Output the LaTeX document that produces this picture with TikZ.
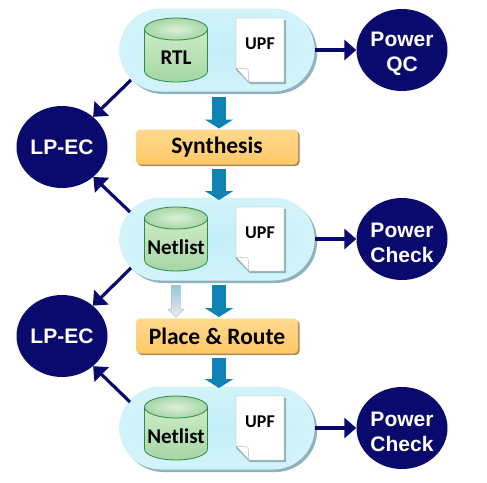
\documentclass[tikz,border=0pt]{standalone}
\usepackage{fontspec}
\setmainfont{Carlito}
\newfontfamily\circlefont{Liberation Sans}
\usetikzlibrary{arrows.meta,calc,shapes.geometric,shapes.arrows,shapes.misc,shadows}

\definecolor{PillBlue}{HTML}{C4EFF9}
\definecolor{PillEdge}{HTML}{D2F3FA}
\definecolor{PillShadow}{HTML}{8FB2BC}
\definecolor{DbGreen}{HTML}{A6D6A6}
\definecolor{DbLight}{HTML}{CDEBC6}
\definecolor{DbLine}{HTML}{2E8B4A}
\definecolor{BoxOrange}{HTML}{FFC766}
\definecolor{BoxLight}{HTML}{FFD98F}
\definecolor{BoxShadow}{HTML}{A8885A}
\definecolor{FlowBlue}{HTML}{0F82B4}
\definecolor{CheckNavy}{HTML}{0A0A6E}

\tikzset{
    pillnode/.style={rounded rectangle, minimum width=202pt, minimum height=83pt,
        inner color=PillBlue, outer color=PillEdge,
        copy shadow={shadow xshift=2.5pt, shadow yshift=-2.5pt, fill=PillShadow, draw=none, opacity=1}},
    checkfont/.style={text=white, align=center, font=\circlefont\bfseries\fontsize{21}{25}\selectfont},
    checknode/.style={ellipse, fill=CheckNavy, minimum width=91pt, minimum height=82pt, inner sep=0pt, checkfont},
    stepbox/.style={rounded corners=4pt, minimum width=162pt, minimum height=35pt, inner sep=0pt,
        top color=BoxLight, bottom color=BoxOrange,
        copy shadow={shadow xshift=1.5pt, shadow yshift=-1.5pt, fill=BoxShadow, draw=none, opacity=1},
        font=\bfseries\fontsize{23.5}{26}\selectfont},
    dbtop/.style={ellipse, minimum width=63pt, minimum height=22pt, inner sep=0pt, draw=DbLine, line width=0.8pt,
        inner color=DbLight!70!white, outer color=DbGreen},
    dbtext/.style={inner sep=0pt, font=\bfseries\fontsize{21}{23}\selectfont},
    flowarrow/.style={draw=FlowBlue, line width=14pt, -{Triangle[width=28pt,length=9pt]}},
    navyarrow/.style={draw=CheckNavy, line width=3.2pt, -{Triangle[width=20pt,length=12pt]}},
}

\begin{document}
\begin{tikzpicture}[x=1pt, y=-1pt]

    \useasboundingbox (0,0) rectangle (487,482);
    \fill[white] (0,0) rectangle (487,482);

    % three rows: data plus UPF, with the check beside them
    \foreach \rowname/\rowy/\dbname/\checktext in {A/50/RTL/QC, B/239/Netlist/Check, C/428/Netlist/Check} {
        \node[pillnode] (pill\rowname) at (217,\rowy) {};

        \draw[draw=DbLine, line width=0.8pt, top color=DbLight, bottom color=DbGreen]
            (144.5,\rowy-21) -- (144.5,\rowy+21) arc (180:360:31.5pt and 11pt) -- (207.5,\rowy-21) -- cycle;
        \node[dbtop] (top\rowname) at (176,\rowy-21) {};
        \node[dbtext] (db\rowname) at (176,\rowy+8) {\dbname};

        \coordinate (doc\rowname) at (236,\rowy-32);
        \fill[PillShadow] ($(doc\rowname)+(2,2)$) -- ++(48,0) -- ++(0,64) -- ++(-36,0) -- ++(-14,-14) -- cycle;
        \draw[gray!70, fill=white] (doc\rowname) -- ++(48,0) -- ++(0,64) -- ++(-35,0) -- ++(-13,-14) -- cycle;
        \draw[gray!70, fill=white] ($(doc\rowname)+(0,50)$) -- ++(12,1) -- ++(1,13) -- cycle;
        \node[font=\bfseries\fontsize{18}{20}\selectfont] (upf\rowname) at (260,\rowy-6) {UPF};

        \node[checknode] (check\rowname) at (402,\rowy) {};
        \node[checkfont] (label\rowname) at (402,\rowy+3.5) {Power\\\checktext};
        \draw[navyarrow] (pill\rowname.east) -- (check\rowname.west);
    }

    \node[stepbox] (synth) at (217,147) {Synthesis};
    \node[stepbox] (place) at (217,336) {Place \& Route};
    \node[checknode] (ecA) at (62,147) {LP-EC};
    \node[checknode] (ecB) at (62,336) {LP-EC};

    \draw[flowarrow] (219,97) coordinate (fa) -- (219,128.5) coordinate (fb);
    \draw[flowarrow] (219,169) coordinate (fc) -- (219,200) coordinate (fd);
    \draw[flowarrow] (219,285) coordinate (fe) -- (219,317) coordinate (ff);
    \draw[flowarrow] (219,358) coordinate (fg) -- (219,388) coordinate (fh);

    \node[single arrow, shape border rotate=270, single arrow head extend=3.5pt,
        single arrow head indent=0pt, minimum height=32pt, inner sep=4.5pt,
        draw=gray!60, top color=FlowBlue!45!white, bottom color=gray!15] (altflow) at (176,299) {};

    \coordinate (outA) at (131,80);
    \coordinate (inB) at (130,212);
    \coordinate (outB) at (131,268);
    \coordinate (inC) at (130,402);
    \draw[navyarrow] (outA) -- (ecA);
    \draw[navyarrow] (inB) -- (ecA);
    \draw[navyarrow] (outB) -- (ecB);
    \draw[navyarrow] (inC) -- (ecB);

\end{tikzpicture}
\end{document}
